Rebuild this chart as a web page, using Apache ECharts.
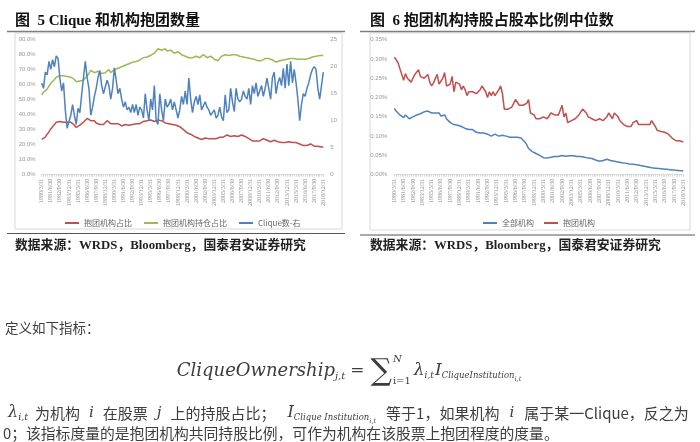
<!DOCTYPE html>
<html><head><meta charset="utf-8">
<script src="https://cdn.jsdelivr.net/npm/echarts/dist/echarts.min.js"></script>
<style>html,body{margin:0;padding:0;background:#fff}#c{width:700px;height:442px}</style>
</head><body><div id="c"></div>
<script>
// ---------- categories ----------
const years = [1980,1981,1982,1983,1984,1985,1986,1987,1988,1989,1990,1991,1992,1993,1994,1995,1996,1997,1998,1999,2000,2001,2002,2003,2004,2005,2006,2007,2008,2009,2010,2011,2012,2013,2014,2015,2016,2017,2018];
const quarterEnds = ['3/31','6/30','9/30','12/31'];
const categories = [];
years.forEach(y => quarterEnds.forEach(q => categories.push(y + '/' + q)));

// ---------- 图5 series ----------
const cliqueShare = [23.5,23,25,27,28.5,30.5,32,33.5,35,35,
35.5,35.5,35,35.5,35,35.5,35,34.5,33,31.5,
32,33,34,35,36,37.5,37,36,35.5,36,
34.5,34,33.5,33,33.5,34.5,36,35.5,34,34.5,
34,33.5,34,33,32.5,33,33.5,32.5,33,34,
33.5,33,34,34.5,34,35,35.5,35,36,35.5,
36.5,36,35.5,36,36.5,35.5,36,35,34.5,35,
34,34.5,33.5,34,33,33.5,32,31,30,29,
28,27.5,27,26,25.5,25,24.5,24,23.5,24,
24.5,25.5,24,24.5,24,24.5,24,24.5,25,25.5,
25,26,26.5,26,25.5,26.5,26,26.5,25.5,26,
26.5,26,25.5,24.5,24,23,22.5,22,22.5,23,
22.5,23,24,23.5,23,22.5,22,22.5,23,22.5,
22,21.5,21.5,21,21.5,22,22,22,21.5,22,
21.5,21,20.5,20,19.5,20,19.5,19.5,20.5,19.5,
19,20,19,18.5,18.5,18.5];

const holdingShare = [53,55,54.5,57,58,61,62,63.5,65,64.5,
66,65.5,66,67,65.5,64.5,65,65,63.5,62,
61.5,62.5,62,63,64.5,66,67.5,69.5,69,68,
68.5,69,68,67.5,67,68,69,70,68,69,
70,70.5,71,71.5,72,72.5,73,73.5,74,74.5,
75,75,75.5,76,76.5,77.5,78,79,78.5,78.5,
79.5,80,81,82.5,84,83.5,83,83.5,84,82.5,
82,83,82,81,81.5,82,81,80,79.5,79,
78.5,78,77.5,78,78.5,79,78.5,78,79,80,
79,78,78.5,79,78,77,76.5,76,77.5,79,
79.5,80,80,79.5,79,80,80.5,80,79.5,79,
79,78.5,78.5,78,78,77.5,77.5,77,76.5,76,
75.5,76,77,77.5,78,77.5,77,76.5,75.5,75,
75.5,76,76,76.5,77,77,77.5,77.5,77.5,77.5,
77.5,77,77,77,77.5,77,77.5,77.5,78,78.5,
79,79,79.5,79.5,79.5,79.5];

const cliqueCount = [17,16,19,18.5,21,19.5,21.3,20,22,21.5,
17.9,15.5,17,12,8.6,8.5,11,13,11,9.3,
12.3,11.5,14.8,18,21,18,16,11,12.5,14.5,
16,18,19.3,16.5,15,15,17.5,16.5,14,16,
19.8,17.5,15,16,14,12.5,13.5,12,12.5,11.5,
13,11.5,13,11,12.5,12,10.5,15,12,10,
14,12,16.5,10,9.3,15,12,10,14,12.5,
13,14,12,13.5,12,10.5,12,14.5,13,15.5,
13,17.9,14,11.5,13.5,14.5,13,14.8,12,11.7,
13.5,12.5,12,11,11.5,12,10.5,11,12.5,10.7,
10,14.8,11.5,12,16,13.5,11.7,16,14,13.5,
14,15.5,14.5,14,16,13,16.5,15,17,14.5,
15.5,16.5,14.5,16,17.9,16,14,18,19,15,
17,18,16.5,19.7,16,20.5,16.5,21,17,19.5,
17,14,10,13,15,14.5,16,17,18.5,19.5,
20,19.5,16,14,14,19];

// ---------- 图6 series (%) ----------
const cliqueMedian = [.305,.298,.29,.275,.26,.245,.262,.25,.245,.24,
.25,.26,.258,.272,.255,.25,.25,.255,.26,.24,
.23,.238,.24,.26,.235,.24,.25,.265,.23,.225,
.235,.255,.215,.24,.235,.235,.22,.23,.22,.205,
.215,.22,.215,.21,.21,.215,.22,.23,.228,.215,
.2,.215,.205,.215,.205,.21,.22,.23,.21,.17,
.165,.17,.165,.175,.185,.195,.19,.18,.18,.18,
.18,.185,.195,.16,.155,.155,.145,.15,.145,.145,
.15,.155,.145,.15,.16,.155,.155,.15,.155,.16,
.18,.15,.16,.135,.14,.14,.145,.145,.15,.155,
.16,.17,.165,.16,.15,.15,.145,.145,.14,.145,
.145,.15,.14,.145,.15,.16,.16,.145,.16,.155,
.15,.14,.14,.13,.125,.125,.12,.125,.135,.13,
.14,.13,.135,.13,.135,.13,.135,.13,.14,.135,
.125,.115,.113,.112,.11,.11,.108,.105,.1,.095,
.09,.088,.092,.088,.086,.085];

const allMedian = [.172,.165,.16,.155,.15,.148,.155,.15,.145,.147,
.15,.152,.155,.155,.158,.16,.163,.162,.165,.16,
.16,.162,.16,.155,.16,.152,.15,.155,.145,.14,
.135,.138,.13,.132,.128,.13,.125,.125,.12,.122,
.117,.115,.117,.113,.11,.112,.108,.106,.108,.105,
.105,.103,.1,.102,.105,.102,.1,.103,.102,.1,
.1,.098,.097,.095,.097,.096,.097,.097,.095,.09,
.085,.078,.068,.063,.06,.057,.055,.052,.05,.047,
.044,.043,.043,.044,.045,.046,.047,.048,.047,.048,
.05,.049,.048,.047,.049,.05,.049,.048,.047,.046,
.047,.046,.045,.044,.043,.042,.042,.04,.038,.036,
.035,.036,.037,.038,.04,.039,.037,.036,.035,.034,
.033,.032,.031,.03,.03,.029,.028,.028,.027,.027,
.026,.025,.024,.023,.022,.021,.02,.019,.018,.018,
.017,.016,.016,.015,.015,.014,.014,.013,.013,.012,
.012,.012,.011,.011,.01,.01];

const names5 = ['抱团机构占比','抱团机构持仓占比','Clique数-右'];
const names6 = ['全部机构','抱团机构'];

const RED = '#C0504D', GREEN = '#9BBB59', BLUE = '#4F81BD';
const SERIF = '"Liberation Serif","Noto Sans CJK SC"';
const CJK = '"Noto Sans CJK SC"';
const MATH = '"DejaVu Serif"';
const TXT = '#3d3d3d';

// ---------- text layout helper ----------
const mctx = document.createElement('canvas').getContext('2d');
function flow(pieces, x0, yc) {
  const els = []; let x = x0;
  pieces.forEach(p => {
    const st = p.st || 'normal', fw = p.w || 'normal';
    mctx.font = st + ' ' + fw + ' ' + p.fs + 'px ' + p.fam;
    const wd = mctx.measureText(p.t).width;
    els.push({type:'text', x:x, y:yc + (p.dy || 0), silent:true,
      style:{text:p.t, fontSize:p.fs, fontFamily:p.fam, fontStyle:st, fontWeight:fw,
             fill:p.c || TXT, verticalAlign:'middle', align:'left'}});
    if (!p.stay) x += wd + (p.gap || 0);
  });
  return {els:els, width:x - x0};
}
const mi = (t, fs, dy, gap) => ({t:t, fs:fs, fam:MATH, st:'italic', dy:dy || 0, gap:gap || 0});
const cj = (t, gap) => ({t:t, fs:15, fam:CJK, gap:gap || 0});

const formula = [
  mi('CliqueOwnership', 18), mi('j,t', 10, 5, 5),
  {t:'=', fs:17, fam:MATH, gap:6},
  {t:'∑', fs:30, fam:MATH, dy:1, gap:1},
  Object.assign(mi('N', 10, -12), {stay:true}), {t:'i=1', fs:10, fam:MATH, dy:10, gap:3},
  mi('λ', 17), mi('i,t', 9, 5, 1), mi('I', 17), mi('CliqueInstitution', 8.5, 5), mi('i,t', 6.5, 8)
];
const fwid = flow(formula, 0, 0).width;
const formulaEls = flow(formula, 349 - fwid / 2, 371).els;

const line3 = [
  mi('λ', 16), mi('i,t', 9.5, 5, 7), cj('为机构', 9), mi('i', 15, 0, 9), cj('在股票', 9), mi('j', 15, 0, 9),
  cj('上的持股占比；', 12), mi('I', 16), mi('Clique Institution', 8.5, 5), mi('i,t', 6.5, 8, 10),
  cj('等于1，如果机构', 10), mi('i', 15, 0, 10), cj('属于某一Clique，反之为')
];
const line3Els = flow(line3, 8, 413).els;

const graphics = [
  // panel 1
  {type:'text', x:15, y:21, silent:true, style:{text:'图  5 Clique 和机构抱团数量', fontSize:15, fontWeight:'bold', fontFamily:SERIF, fill:'#111', verticalAlign:'middle'}},
  {type:'line', silent:true, shape:{x1:7, y1:31.5, x2:345, y2:31.5}, style:{stroke:'#7f7f7f', lineWidth:1.5}},
  {type:'rect', silent:true, z:-1, shape:{x:15, y:33, width:327, height:196}, style:{fill:'rgba(0,0,0,0)', stroke:'#d9d9d9', lineWidth:1}},
  {type:'line', silent:true, shape:{x1:7, y1:233.5, x2:345, y2:233.5}, style:{stroke:'#555', lineWidth:1}},
  {type:'text', x:15, y:246, silent:true, style:{text:'数据来源：WRDS，Bloomberg，国泰君安证券研究', fontSize:12.8, fontWeight:'bold', fontFamily:SERIF, fill:'#222', verticalAlign:'middle'}},
  // panel 2
  {type:'text', x:370, y:21, silent:true, style:{text:'图  6 抱团机构持股占股本比例中位数', fontSize:15, fontWeight:'bold', fontFamily:SERIF, fill:'#111', verticalAlign:'middle'}},
  {type:'line', silent:true, shape:{x1:360, y1:31.5, x2:695, y2:31.5}, style:{stroke:'#7f7f7f', lineWidth:1.5}},
  {type:'rect', silent:true, z:-1, shape:{x:370, y:33, width:320, height:197}, style:{fill:'rgba(0,0,0,0)', stroke:'#d9d9d9', lineWidth:1}},
  {type:'line', silent:true, shape:{x1:360, y1:235, x2:695, y2:235}, style:{stroke:'#555', lineWidth:1}},
  {type:'text', x:370, y:246, silent:true, style:{text:'数据来源：WRDS，Bloomberg，国泰君安证券研究', fontSize:12.8, fontWeight:'bold', fontFamily:SERIF, fill:'#222', verticalAlign:'middle'}},
  // body text
  {type:'text', x:5, y:328, silent:true, style:{text:'定义如下指标：', fontSize:13.5, fontFamily:CJK, fill:TXT, verticalAlign:'middle'}},
  {type:'text', x:3, y:433, silent:true, style:{text:'0；该指标度量的是抱团机构共同持股比例，可作为机构在该股票上抱团程度的度量。', fontSize:14.8, fontFamily:CJK, fill:TXT, verticalAlign:'middle'}}
].concat(formulaEls, line3Els);

const xAxisBase = gi => ({
  gridIndex:gi, type:'category', data:categories, boundaryGap:false,
  axisLine:{lineStyle:{color:'#d9d9d9'}},
  axisTick:{show:true, interval:0, length:2, lineStyle:{color:'#d9d9d9'}},
  axisLabel:{interval:4, rotate:90, fontSize:6, color:'#8c8c8c', margin:4, fontFamily:'"Liberation Serif"'}
});
const yLab = {fontSize:6, color:'#999', fontFamily:'"Liberation Sans"'};
const noLine = {splitLine:{show:false}, axisLine:{show:false}, axisTick:{show:false}};

const chart = echarts.init(document.getElementById('c'));
chart.setOption({
  animation:false,
  backgroundColor:'#fff',
  grid:[{left:41.7, top:39.7, width:281.6, height:135}, {left:394.3, top:39.7, width:289, height:135}],
  xAxis:[xAxisBase(0), xAxisBase(1)],
  yAxis:[
    Object.assign({gridIndex:0, type:'value', min:0, max:90, interval:10,
      axisLabel:Object.assign({margin:6, formatter:v => v.toFixed(1) + '%'}, yLab)}, noLine),
    Object.assign({gridIndex:0, type:'value', position:'right', min:0, max:25, interval:5,
      axisLabel:Object.assign({margin:7}, yLab)}, noLine),
    Object.assign({gridIndex:1, type:'value', min:0, max:0.35, interval:0.05,
      axisLabel:Object.assign({margin:7, formatter:v => v.toFixed(2) + '%'}, yLab)}, noLine)
  ],
  legend:[
    {data:names5, left:60, top:214, icon:'rect', itemWidth:14, itemHeight:2, itemGap:12,
     textStyle:{fontSize:8, color:'#666', fontFamily:CJK}},
    {data:names6, left:478, top:214, icon:'rect', itemWidth:14, itemHeight:2, itemGap:10,
     textStyle:{fontSize:8, color:'#666', fontFamily:CJK}}
  ],
  series:[
    {name:names5[0], type:'line', xAxisIndex:0, yAxisIndex:0, data:cliqueShare, color:RED, symbol:'none', lineStyle:{width:1.5}},
    {name:names5[1], type:'line', xAxisIndex:0, yAxisIndex:0, data:holdingShare, color:GREEN, symbol:'none', lineStyle:{width:1.5}},
    {name:names5[2], type:'line', xAxisIndex:0, yAxisIndex:1, data:cliqueCount, color:BLUE, symbol:'none', lineStyle:{width:1.5}},
    {name:names6[0], type:'line', xAxisIndex:1, yAxisIndex:2, data:allMedian, color:BLUE, symbol:'none', lineStyle:{width:1.5}},
    {name:names6[1], type:'line', xAxisIndex:1, yAxisIndex:2, data:cliqueMedian, color:RED, symbol:'none', lineStyle:{width:1.5}}
  ],
  graphic:graphics
});
</script></body></html>
